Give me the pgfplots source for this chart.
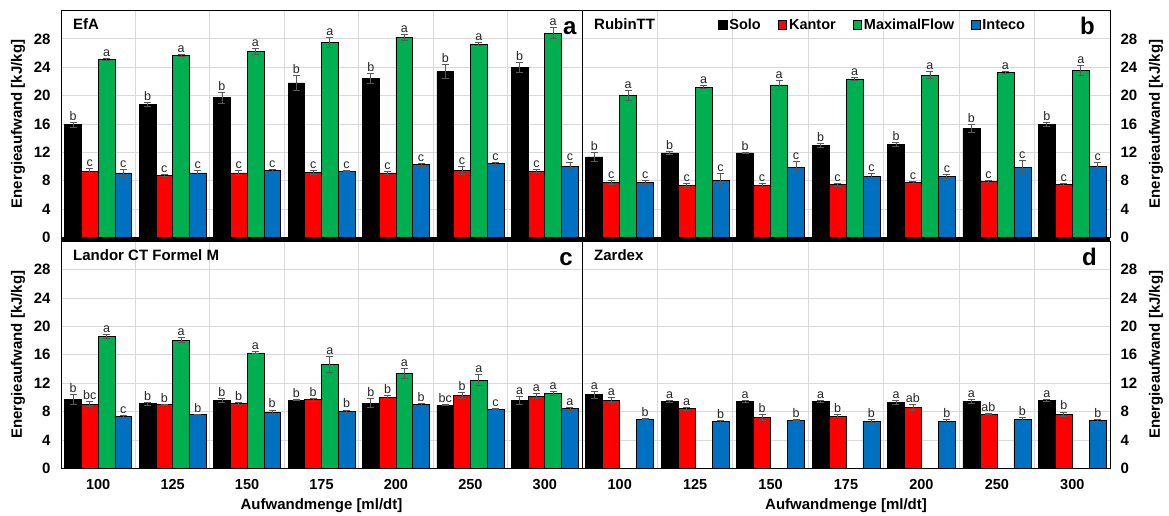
\documentclass[border=0pt]{standalone}
\usepackage{fontspec}
\setmainfont{Liberation Sans}
\usepackage{pgfplots}
\usepackage{pgfplotstable}
\pgfplotsset{compat=1.18}

\definecolor{cSolo}{RGB}{0,0,0}
\definecolor{cKantor}{RGB}{255,0,0}
\definecolor{cMax}{RGB}{0,176,80}
\definecolor{cInteco}{RGB}{0,112,192}
\definecolor{gridgray}{RGB}{217,217,217}
\definecolor{errgray}{RGB}{89,89,89}

% Energieaufwand [kJ/kg]: Mittelwert, Fehler, Buchstabe je Verfahren
% s = Solo, k = Kantor, m = MaximalFlow, i = Inteco
\pgfplotstableread{
x s    se   ls k    ke   lk m     me   lm i     ie   li
1 15.9 0.38 b  9.3  0.50 c  25.1  0.20 a  9.1   0.45 c
2 18.8 0.30 b  8.8  0.12 c  25.7  0.15 a  9.1   0.30 c
3 19.7 0.75 b  9.1  0.40 c  26.2  0.40 a  9.5   0.15 c
4 21.8 1.05 b  9.2  0.30 c  27.5  0.70 a  9.35  0.10 c
5 22.4 0.70 b  9.1  0.20 c  28.2  0.38 a  10.25 0.20 c
6 23.4 1.00 b  9.45 0.60 c  27.25 0.20 a  10.45 0.10 c
7 24.0 0.66 b  9.35 0.20 c  28.8  0.80 a  10.05 0.50 c
}\tabEfA

\pgfplotstableread{
x s     se   ls k    ke   lk m     me   lm i    ie   li
1 11.35 0.66 b  7.78 0.30 c  20.0  0.73 a  7.73 0.30 c
2 11.92 0.20 b  7.40 0.20 c  21.2  0.20 a  8.00 1.00 c
3 11.92 0.12 b  7.35 0.25 c  21.5  0.63 a  9.90 0.82 c
4 13.00 0.30 b  7.44 0.25 c  22.35 0.20 a  8.57 0.45 c
5 13.14 0.30 b  7.73 0.12 c  22.9  0.45 a  8.57 0.30 c
6 15.35 0.56 b  7.92 0.10 c  23.3  0.10 a  9.84 1.00 c
7 15.97 0.30 b  7.49 0.15 c  23.6  0.68 a  9.98 0.60 c
}\tabRubin

\pgfplotstableread{
x s    se   ls k     ke   lk m     me   lm i    ie   li
1 9.72 0.75 b  9.06  0.40 bc 18.63 0.30 a  7.32 0.20 c
2 9.10 0.20 b  8.96  0.10 b  18.07 0.35 a  7.55 0.10 b
3 9.58 0.25 b  9.15  0.20 b  16.28 0.15 a  7.83 0.40 b
4 9.62 0.10 b  9.67  0.20 b  14.69 1.13 a  8.03 0.20 b
5 9.20 0.59 b  10.00 0.25 b  13.38 0.73 a  9.01 0.10 b
6 8.92 0.10 bc 10.28 0.40 b  12.44 0.73 a  8.35 0.10 c
7 9.58 0.61 a  10.18 0.35 a  10.56 0.30 a  8.40 0.20 a
}\tabLandor

\pgfplotstableread{
x s     se   ls k    ke   lk i    ie   li
1 10.37 0.50 a  9.62 0.40 a  6.94 0.05 b
2 9.48  0.15 a  8.40 0.20 a  6.57 0.20 b
3 9.48  0.15 a  7.18 0.45 b  6.80 0.10 b
4 9.48  0.15 a  7.37 0.20 b  6.66 0.20 b
5 9.29  0.30 a  8.59 0.45 ab 6.62 0.30 b
6 9.43  0.25 a  7.65 0.10 ab 6.90 0.30 b
7 9.58  0.20 a  7.60 0.35 b  6.76 0.10 b
}\tabZardex

\pgfplotsset{
  panel/.style={
    scale only axis, height=227pt, anchor=south west,
    xmin=0.5, xmax=7.5, ymin=0, ymax=32,
    xtick={1,...,7}, ytick={0,4,...,28},
    minor xtick={1.5,2.5,...,6.5},
    xminorgrids=true, xmajorgrids=false, ymajorgrids=true,
    grid style={gridgray, line width=0.8pt},
    minor grid style={gridgray, line width=0.8pt},
    major tick length=0pt, minor tick length=0pt,
    axis line style={black, line width=0.8pt},
    tick label style={font=\bfseries\fontsize{15}{18}\selectfont},
    /pgf/number format/assume math mode=true,
    label style={font=\bfseries\fontsize{15}{18}\selectfont},
    clip=false,
  },
  leftpanel/.style={
    yticklabel style={xshift=-7pt},
    ylabel={Energieaufwand [kJ/kg]},
    ylabel style={at={(axis description cs:-0.0825,0.5)}, anchor=center},
  },
  rightpanel/.style={
    yticklabel pos=right,
    yticklabel style={xshift=7pt},
    ylabel={Energieaufwand [kJ/kg]},
    ylabel style={at={(axis description cs:1.087,0.5)}, anchor=center},
  },
  toppanel/.style={xticklabels={}},
  bottompanel/.style={
    xticklabels={100,125,150,175,200,250,300},
    xticklabel style={yshift=-8pt, font=\bfseries\fontsize{14.5}{17}\selectfont},
    xlabel={Aufwandmenge [ml/dt]},
    xlabel style={at={(axis description cs:0.5,0)}, anchor=center, yshift=-37.7pt},
  },
  ser/.style 2 args={
    ybar, bar width=0.225, bar shift=0pt,
    fill=#1, draw=black, line width=0.6pt,
    error bars/y dir=both, error bars/y explicit,
    error bars/error bar style={errgray, line width=0.8pt},
    error bars/error mark options={errgray, line width=0.8pt, mark size=3.5pt, rotate=90},
    nodes near coords, point meta=explicit symbolic,
    visualization depends on={\thisrow{#2} \as \errv},
    every node near coord/.append style={anchor=south, inner sep=1.5pt,
      yshift={\errv*7.094pt}, font=\fontsize{12.5}{13}\selectfont, text=black!85},
    legend image code/.code={\draw[fill=#1, draw=black, line width=0.6pt] (0pt,-4.3pt) rectangle (8.6pt,4.3pt);},
  },
}

% one bar series: colour, offset within the group, value/error/letter columns, table
\newcommand{\bars}[6]{%
  \addplot[ser={#1}{#4}] table[x expr=\thisrow{x}+(#2), y=#3, y error=#4, meta=#5] {#6};}

\newcommand{\paneltitle}[1]{\node[anchor=base west, inner sep=0pt, font=\bfseries\fontsize{15}{18}\selectfont]
  at (rel axis cs:0,1) [xshift=12pt, yshift=-19pt] {#1};}
\newcommand{\panelletter}[2]{\node[anchor=base east, inner sep=0pt, font=\bfseries\fontsize{24}{28}\selectfont]
  at (rel axis cs:1,1) [xshift=-#2, yshift=-24pt] {#1};}

\begin{document}
\begin{tikzpicture}
\useasboundingbox (0,0) rectangle (1169pt,516pt);

% a: EfA
\begin{axis}[panel, toppanel, leftpanel, width=521pt, at={(61pt,278.5pt)}]
  \bars{cSolo}{-0.3375}{s}{se}{ls}{\tabEfA}
  \bars{cKantor}{-0.1125}{k}{ke}{lk}{\tabEfA}
  \bars{cMax}{0.1125}{m}{me}{lm}{\tabEfA}
  \bars{cInteco}{0.3375}{i}{ie}{li}{\tabEfA}
  \draw[line width=3.5pt] ([yshift=-1.5pt]rel axis cs:0,0) -- ([yshift=-1.5pt]rel axis cs:1,0);
  \paneltitle{EfA}
  \panelletter{a}{5.3pt}
\end{axis}

% b: RubinTT
\begin{axis}[panel, toppanel, rightpanel, width=528pt, at={(582pt,278.5pt)},
  legend columns=4,
  legend style={draw=none, fill=none, inner sep=0pt, at={(axis description cs:0.2576,0.937)}, anchor=west,
    font=\bfseries\fontsize{14.5}{17}\selectfont, nodes={inner sep=2pt},
    /tikz/every even column/.append style={column sep=15pt}}]
  \bars{cSolo}{-0.3375}{s}{se}{ls}{\tabRubin}
  \addlegendentry{Solo}
  \bars{cKantor}{-0.1125}{k}{ke}{lk}{\tabRubin}
  \addlegendentry{Kantor}
  \bars{cMax}{0.1125}{m}{me}{lm}{\tabRubin}
  \addlegendentry{MaximalFlow}
  \bars{cInteco}{0.3375}{i}{ie}{li}{\tabRubin}
  \addlegendentry{Inteco}
  \draw[line width=3.5pt] ([yshift=-1.5pt]rel axis cs:0,0) -- ([yshift=-1.5pt]rel axis cs:1,0);
  \paneltitle{RubinTT}
  \panelletter{b}{15pt}
\end{axis}

% c: Landor CT Formel M
\begin{axis}[panel, bottompanel, leftpanel, width=521pt, at={(61pt,47.7pt)}]
  \bars{cSolo}{-0.3375}{s}{se}{ls}{\tabLandor}
  \bars{cKantor}{-0.1125}{k}{ke}{lk}{\tabLandor}
  \bars{cMax}{0.1125}{m}{me}{lm}{\tabLandor}
  \bars{cInteco}{0.3375}{i}{ie}{li}{\tabLandor}
  \paneltitle{Landor CT Formel M}
  \panelletter{c}{9pt}
\end{axis}

% d: Zardex (no MaximalFlow)
\begin{axis}[panel, bottompanel, rightpanel, width=528pt, at={(582pt,47.7pt)}]
  \bars{cSolo}{-0.3375}{s}{se}{ls}{\tabZardex}
  \bars{cKantor}{-0.1125}{k}{ke}{lk}{\tabZardex}
  \bars{cInteco}{0.3375}{i}{ie}{li}{\tabZardex}
  \paneltitle{Zardex}
  \panelletter{d}{13pt}
\end{axis}
\end{tikzpicture}
\end{document}
